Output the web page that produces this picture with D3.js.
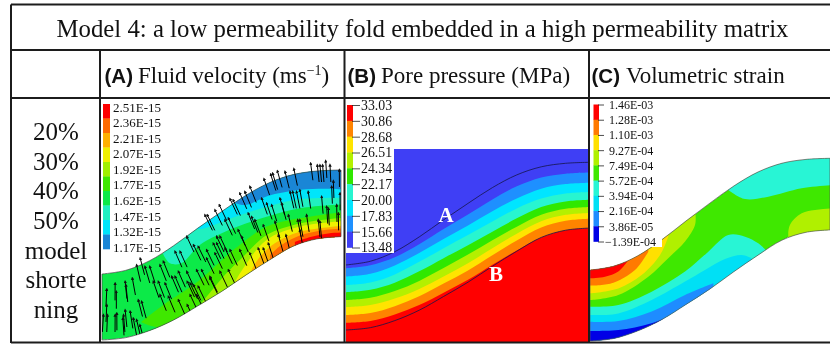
<!DOCTYPE html>
<html>
<head>
<meta charset="utf-8">
<script src="https://cdn.jsdelivr.net/npm/d3@7"></script>
<style>
    body { margin: 0; background: #fff; }
    svg { filter: blur(0.3px); }
    text { font-family: "Liberation Serif", serif; fill: #111; }
    .domain { display: none; }
</style>
</head>
<body>
<div id="chart"></div>
<script>
const titleText = 'Model 4: a low permeability fold embedded in a high permeability matrix';
const shorteningLines = ['20%', '30%', '40%', '50%', 'model', 'shorte', 'ning'];

// fold geometry: along-fold station (0-1) and model height of the two surfaces
const stations = [0, 0.1, 0.2, 0.3, 0.4, 0.5, 0.6, 0.7, 0.8, 0.9, 1];
const foldTop = [38.8, 41, 46.7, 55.5, 65.7, 75.5, 84.9, 92.5, 97.3, 99.4, 100];
const foldBottom = [0, 1.4, 5.6, 11.8, 20, 28.5, 38, 47, 55.2, 59.5, 60.8];
const matrixTop = 108;

// legends, top to bottom
const velocityTicks = ['2.51E-15', '2.36E-15', '2.21E-15', '2.07E-15', '1.92E-15', '1.77E-15', '1.62E-15', '1.47E-15', '1.32E-15', '1.17E-15'];
const pressureTicks = ['33.03', '30.86', '28.68', '26.51', '24.34', '22.17', '20.00', '17.83', '15.66', '13.48'];
const strainTicks = ['1.46E-03', '1.28E-03', '1.10E-03', '9.27E-04', '7.49E-04', '5.72E-04', '3.94E-04', '2.16E-04', '3.86E-05', '\u22121.39E-04'];

const velocityColors = ['#ff0000', '#ff6a00', '#ffb000', '#f0f000', '#a0f000', '#3fe800', '#0cea48', '#20f0c0', '#00e5fa', '#1a86d6'];
const pressureColors = ['#ff0000', '#ff8400', '#ffe400', '#b4f000', '#30e800', '#28f5d0', '#00e5ff', '#1e90ff', '#3f3ff5'];
const strainColors = ['#ff0000', '#ff7a00', '#ffe000', '#b0f000', '#3fe800', '#28f5d5', '#00e0f5', '#1e8cff', '#0000e6'];

// contour edges as [station, model height]
const velocityBlueEdge = [[0.535, 81.8], [0.598, 79.4], [0.696, 84.9], [0.807, 88], [0.905, 89], [1.017, 88.6]];
const velocityCyanEdge = [[0.381, 65.7], [0.416, 65.3], [0.549, 72], [0.689, 78.4], [0.828, 82.9], [1.017, 83.7]];
const velocityTealEdge = [[0.256, 50.4], [0.284, 45.1], [0.332, 45.1], [0.409, 55.9], [0.549, 65.7], [0.689, 72.5], [0.828, 77.5], [1.017, 79.8]];
const velocityGreenEdge = [[0.165, 10.8], [0.256, 20.6], [0.409, 35.3], [0.549, 52.9], [0.689, 66.7], [0.828, 71.6], [1.017, 75.5]];
const velocitySliverEdge = [[0.16, 10.8], [0.2, 8.5], [0.245, 7]];
const velocityLimeEdge = [[0.416, 21.6], [0.514, 38.2], [0.598, 50], [0.689, 61.8], [0.828, 68.6], [1.017, 72]];
const velocityYellowEdge = [[0.542, 30.4], [0.591, 42.2], [0.689, 58.8], [0.828, 66.7], [1.017, 70]];
const velocityAmberEdge = [[0.626, 41.2], [0.661, 49], [0.723, 56.9], [0.828, 63.7], [1.017, 67.3]];
const velocityOrangeEdge = [[0.703, 50], [0.751, 55.9], [0.828, 61.4], [0.905, 64.1], [1.017, 65.7]];
const velocityRedEdge = [[0.807, 57.8], [0.877, 60.8], [0.947, 62.7], [1.017, 63.3]];

const strainRedEdge = [[0, 34.3], [0.0625, 35.2], [0.118, 38], [0.16, 44.3]];
const strainOrangeEdge = [[0, 30.3], [0.09, 31.6], [0.1875, 38.9], [0.243, 48.9]];
const strainYellowEdge = [[0, 26.1], [0.118, 28.8], [0.215, 36.1], [0.292, 47.1], [0.326, 57.1]];
const strainLimeEdge = [[0, 22.4], [0.118, 25.2], [0.243, 35.2], [0.326, 45.3], [0.396, 54.4], [0.4375, 63.5], [0.44, 68.6]];
const strainTealEdge = [[0, 18.8], [0.118, 19.7], [0.257, 27], [0.396, 38], [0.493, 48.9], [0.576, 58], [0.646, 57.1], [0.701, 53.5], [0.74, 48.9]];
const strainCyanEdge = [[0, 14.2], [0.118, 15.1], [0.257, 22.4], [0.396, 32.5], [0.479, 38.9], [0.5625, 44.9], [0.632, 47.1], [0.674, 45.3]];
const strainAzureEdge = [[0, 10.6], [0.118, 10.9], [0.257, 16.1], [0.396, 25.2], [0.514, 31.6]];
const strainBlueEdge = [[0, 5.5], [0.118, 6], [0.257, 9.7], [0.41, 17.9]];
const strainUpperTealEdge = [[0.576, 82.7], [0.646, 77.7], [0.743, 79], [0.882, 83.6], [1.02, 85.4]];
const strainLowerLimeEdge = [[0.826, 58.9], [0.833, 63.5], [0.882, 69.9], [1.02, 72.6]];

// pressure bands run parallel to the fold: edges as fraction of its thickness per station
const pressureEdges = [
    [0.89, 0.9, 0.91, 0.93, 0.95, 0.97, 0.98, 0.99, 1, 1, 1],
    [0.77, 0.78, 0.79, 0.81, 0.83, 0.85, 0.86, 0.86, 0.86, 0.86, 0.86],
    [0.65, 0.66, 0.68, 0.71, 0.74, 0.76, 0.77, 0.77, 0.77, 0.77, 0.77],
    [0.54, 0.55, 0.57, 0.6, 0.63, 0.65, 0.67, 0.68, 0.68, 0.68, 0.68],
    [0.42, 0.43, 0.45, 0.47, 0.5, 0.53, 0.56, 0.57, 0.57, 0.57, 0.57],
    [0.31, 0.32, 0.33, 0.34, 0.37, 0.4, 0.43, 0.44, 0.45, 0.45, 0.45],
    [0.18, 0.19, 0.2, 0.22, 0.25, 0.28, 0.3, 0.31, 0.31, 0.31, 0.31],
    [0.05, 0.06, 0.08, 0.1, 0.12, 0.14, 0.15, 0.15, 0.15, 0.155, 0.155]
];

// velocity arrows: arrow tip as [station, model height]
const arrowTips = [
    [0.02, 29.8], [0.055, 33.3], [0.06, 28.4], [0.097, 34.3], [0.1, 32.3], [0.127, 36.3], [0.145, 44.1], [0.16, 48],
    [0.18, 43.1], [0.2, 43.1], [0.243, 44.1], [0.257, 46.1], [0.306, 52], [0.327, 52], [0.355, 60.8], [0.383, 55.9],
    [0.403, 54.9], [0.215, 34.3], [0.236, 34.3], [0.264, 33.3], [0.292, 37.3], [0.306, 37.3], [0.32, 40.2], [0.355, 40.2],
    [0.396, 41.2], [0.417, 41.2], [0.438, 52.9], [0.473, 51], [0.48, 56.9], [0.02, 20.6], [0.062, 15.7], [0.09, 14.7],
    [0.097, 17.6], [0.118, 16.7], [0.152, 23.5], [0.166, 22.5], [0.243, 26.5], [0.278, 25.5], [0.32, 23.5], [0.357, 34.3],
    [0.369, 33.3], [0.383, 32.3], [0.403, 31.4], [0.452, 36.3], [0.494, 40.2], [0.006, 14.7], [0.023, 14.7], [0.055, 14.7],
    [0.087, 12.7], [0.131, 12.7], [0.145, 11.8], [0.159, 8.8], [0.357, 20.6], [0.369, 26.5], [0.396, 26.5],
    [0.431, 73.5], [0.441, 73.5], [0.473, 76.4], [0.491, 79.4], [0.536, 82.9], [0.549, 82.3], [0.577, 86.3], [0.598, 87.2],
    [0.619, 90.2], [0.678, 94.7], [0.706, 97.4], [0.714, 98], [0.734, 99.4], [0.766, 99], [0.803, 100.6], [0.873, 103.9],
    [0.901, 102.9], [0.912, 102.9], [0.923, 102.9], [0.936, 105.3], [0.954, 102.9], [0.993, 100],
    [0.515, 70.6], [0.529, 71.6], [0.57, 64.7], [0.612, 74.5], [0.626, 72.5], [0.64, 70.6], [0.668, 83.3], [0.689, 80.4],
    [0.71, 79.4], [0.745, 83.3], [0.752, 80.4], [0.787, 87.2], [0.798, 87.2], [0.814, 87.2], [0.828, 88.2], [0.863, 87.2],
    [0.919, 84.3], [0.961, 90.2], [0.968, 93.5], [0.996, 86.3], [0.466, 56.8], [0.48, 60.8], [0.494, 60.8], [0.515, 53.9],
    [0.536, 52.9], [0.577, 52.9], [0.584, 60.8], [0.619, 51], [0.654, 53.9], [0.675, 53.9], [0.675, 67.6], [0.696, 56.8],
    [0.724, 69.6], [0.738, 61.7], [0.78, 73.5], [0.77, 61.7], [0.819, 70.6], [0.828, 70.6], [0.856, 73.5], [0.905, 70.6],
    [0.912, 69.6], [0.94, 78.4], [0.947, 77.4], [0.982, 79.4], [0.989, 74.5], [0.828, 64.7], [0.438, 48], [0.452, 37.2],
    [0.529, 41.2]
];
// arrow lean from vertical (degrees, negative = up-left) along the fold
const leanStations = [0, 0.06, 0.15, 0.25, 0.4, 0.55, 0.7, 0.85, 1];
const leanDegrees = [4, 0, -14, -22, -26, -25, -18, -9, 0];

const width = 830;
const height = 344;
const lineColor = '#1c1c1c';
const above = 150;
const below = -40;

const svg = d3.select('#chart')
    .append('svg')
    .attr('width', width)
    .attr('height', height)
    .style('display', 'block');
const defs = svg.append('defs');

defs.append('marker')
    .attr('id', 'arrowHead')
    .attr('viewBox', '0 0 6 6')
    .attr('refX', 3)
    .attr('refY', 3)
    .attr('markerWidth', 3.4)
    .attr('markerHeight', 3.4)
    .attr('markerUnits', 'userSpaceOnUse')
    .attr('orient', 'auto')
    .append('path')
    .attr('d', 'M0,0L6,3L0,6Z')
    .attr('fill', '#111');

const stationIndex = stations.map((d, i) => i);
const smooth = d3.curveCatmullRom.alpha(0.5);

function foldScales (left, right, yZero, yHundred) {
    const x = d3.scaleLinear().domain([0, 1]).range([left, right]);
    const y = d3.scaleLinear().domain([0, 100]).range([yZero, yHundred]);
    return { x, y };
}

function foldArea ({ x, y }) {
    return d3.area()
        .x(i => x(stations[i]))
        .y0(i => y(foldBottom[i]))
        .y1(i => y(foldTop[i]))
        .curve(smooth)(stationIndex);
}

function surfaceLine ({ x, y }, surface) {
    return d3.line()
        .x(i => x(stations[i]))
        .y(i => y(surface[i]))
        .curve(smooth)(stationIndex);
}

function addClip (id, scales) {
    defs.append('clipPath').attr('id', id)
        .append('path')
        .attr('d', foldArea(scales));
}

// fills from a contour edge to far above or far below the fold, the clip trims it
function lobe (g, { x, y }, edge, baseline, color) {
    g.append('path')
        .attr('d', d3.area()
            .x(d => x(d[0]))
            .y0(y(baseline))
            .y1(d => y(d[1]))
            .curve(smooth)(edge))
        .attr('fill', color);
}

function legend (g, ticks, colors, opts) {
    const { x, top, bottom, barWidth, tickLength, labelGap, fontSize, barTop, barBottom } = opts;
    const bar = d3.scaleBand()
        .domain(colors)
        .range([barTop, barBottom]);
    g.selectAll('rect.swatch')
        .data(colors)
        .join('rect')
        .attr('class', 'swatch')
        .attr('x', x)
        .attr('y', d => bar(d))
        .attr('width', barWidth)
        .attr('height', bar.bandwidth() + 0.3)
        .attr('fill', d => d);
    const labels = d3.scalePoint().domain(ticks).range([top, bottom]);
    const axis = d3.axisRight(labels).tickSize(tickLength).tickPadding(labelGap);
    const axisG = g.append('g')
        .attr('transform', `translate(${x + barWidth - 1},0)`)
        .call(axis);
    axisG.selectAll('line').attr('stroke', '#222').attr('stroke-width', 0.8);
    axisG.selectAll('text')
        .attr('font-size', fontSize)
        .style('font-family', '"Liberation Serif", serif')
        .attr('fill', '#111');
    return axisG;
}

// PANEL A
const velocityScales = foldScales(102, 341, 340, 170);
addClip('velocityClip', velocityScales);
// arrows may stick out of the top of the fold, not out of the bottom
defs.append('clipPath').attr('id', 'arrowClip')
    .append('path')
    .attr('d', d3.area()
        .x(i => velocityScales.x(stations[i]))
        .y0(i => velocityScales.y(foldBottom[i]))
        .y1(velocityScales.y(above))
        .curve(smooth)(stationIndex));
const velocityGroup = svg.append('g');
const velocityFold = velocityGroup.append('g').attr('clip-path', 'url(#velocityClip)');
velocityFold.append('path').attr('d', foldArea(velocityScales)).attr('fill', velocityColors[6]);
lobe(velocityFold, velocityScales, velocityTealEdge, above, velocityColors[7]);
lobe(velocityFold, velocityScales, velocityCyanEdge, above, velocityColors[8]);
lobe(velocityFold, velocityScales, velocityBlueEdge, above, velocityColors[9]);
lobe(velocityFold, velocityScales, velocityGreenEdge, below, velocityColors[5]);
lobe(velocityFold, velocityScales, velocitySliverEdge, below, velocityColors[6]);
lobe(velocityFold, velocityScales, velocityLimeEdge, below, velocityColors[4]);
lobe(velocityFold, velocityScales, velocityYellowEdge, below, velocityColors[3]);
lobe(velocityFold, velocityScales, velocityAmberEdge, below, velocityColors[2]);
lobe(velocityFold, velocityScales, velocityOrangeEdge, below, velocityColors[1]);
lobe(velocityFold, velocityScales, velocityRedEdge, below, velocityColors[0]);
velocityGroup.append('path')
    .attr('d', foldArea(velocityScales))
    .attr('fill', 'none')
    .attr('stroke', '#444')
    .attr('stroke-width', 0.7);

const lean = d3.scaleLinear().domain(leanStations).range(leanDegrees);
const arrowLength = 17;
velocityGroup.append('g')
    .attr('clip-path', 'url(#arrowClip)')
    .selectAll('line')
    .data(arrowTips)
    .join('line')
    .attr('x2', d => velocityScales.x(d[0]))
    .attr('y2', d => velocityScales.y(d[1]))
    .attr('x1', d => velocityScales.x(d[0]) - arrowLength * Math.sin(lean(d[0]) * Math.PI / 180))
    .attr('y1', d => velocityScales.y(d[1]) + arrowLength * Math.cos(lean(d[0]) * Math.PI / 180))
    .attr('stroke', '#000')
    .attr('stroke-width', 1)
    .attr('marker-end', 'url(#arrowHead)');

legend(velocityGroup.append('g'), velocityTicks, velocityColors, {
    x: 103, barWidth: 7, barTop: 104, barBottom: 249, top: 107, bottom: 247,
    tickLength: 0, labelGap: 4, fontSize: 13
});

// PANEL B
const pressureScales = foldScales(346, 590, 330, 162.3);
const pressureGroup = svg.append('g');
const pressureOrder = pressureColors.slice().reverse();
defs.append('clipPath').attr('id', 'pressureClip')
    .append('rect')
    .attr('x', 346).attr('y', pressureScales.y(matrixTop))
    .attr('width', 244).attr('height', 343 - pressureScales.y(matrixTop));
const pressureFold = pressureGroup.append('g').attr('clip-path', 'url(#pressureClip)');
pressureFold.append('rect')
    .attr('x', 346).attr('y', pressureScales.y(matrixTop))
    .attr('width', 244).attr('height', 343 - pressureScales.y(matrixTop))
    .attr('fill', pressureOrder[0]);
// each band reaches from its edge to below the picture, the last one is the red matrix
pressureEdges.slice().reverse().forEach((edge, n) => {
    pressureFold.append('path')
        .attr('d', d3.area()
            .x(i => pressureScales.x(stations[i]))
            .y0(343)
            .y1(i => pressureScales.y(foldTop[i] + (foldBottom[i] - foldTop[i]) * edge[i]))
            .curve(smooth)(stationIndex))
        .attr('fill', pressureOrder[n + 1]);
});
[foldTop, foldBottom].forEach(surface => {
    pressureGroup.append('path')
        .attr('d', surfaceLine(pressureScales, surface))
        .attr('fill', 'none')
        .attr('stroke', '#15154a')
        .attr('stroke-width', 0.8);
});
pressureGroup.append('rect')
    .attr('x', 345).attr('y', 98)
    .attr('width', 49).attr('height', 155)
    .attr('fill', '#fff');
legend(pressureGroup.append('g'), pressureTicks, pressureColors, {
    x: 347, barWidth: 6, barTop: 105, barBottom: 247.5, top: 105, bottom: 247.5,
    tickLength: 8, labelGap: 1, fontSize: 13.8
});
pressureGroup.append('text').attr('x', 446).attr('y', 222)
    .attr('text-anchor', 'middle').attr('font-size', 21).attr('font-weight', 'bold')
    .style('fill', '#fff').text('A');
pressureGroup.append('text').attr('x', 496).attr('y', 281)
    .attr('text-anchor', 'middle').attr('font-size', 21).attr('font-weight', 'bold')
    .style('fill', '#fff').text('B');

// PANEL C
const strainScales = foldScales(590, 830, 341, 158.3);
addClip('strainClip', strainScales);
const strainGroup = svg.append('g');
const strainFold = strainGroup.append('g').attr('clip-path', 'url(#strainClip)');
strainFold.append('path').attr('d', foldArea(strainScales)).attr('fill', strainColors[4]);
lobe(strainFold, strainScales, strainLimeEdge, above, strainColors[3]);
lobe(strainFold, strainScales, strainYellowEdge, above, strainColors[2]);
lobe(strainFold, strainScales, strainOrangeEdge, above, strainColors[1]);
lobe(strainFold, strainScales, strainRedEdge, above, strainColors[0]);
lobe(strainFold, strainScales, strainTealEdge, below, strainColors[5]);
lobe(strainFold, strainScales, strainCyanEdge, below, strainColors[6]);
lobe(strainFold, strainScales, strainAzureEdge, below, strainColors[7]);
lobe(strainFold, strainScales, strainBlueEdge, below, strainColors[8]);
lobe(strainFold, strainScales, strainUpperTealEdge, above, strainColors[5]);
lobe(strainFold, strainScales, strainLowerLimeEdge, below, strainColors[3]);
strainGroup.append('path')
    .attr('d', foldArea(strainScales))
    .attr('fill', 'none')
    .attr('stroke', '#555')
    .attr('stroke-width', 0.7);
strainGroup.append('rect')
    .attr('x', 591).attr('y', 98)
    .attr('width', 71).attr('height', 149)
    .attr('fill', '#fff');
const strainAxis = legend(strainGroup.append('g'), strainTicks, strainColors, {
    x: 593.5, barWidth: 5.5, barTop: 104.5, barBottom: 241.5, top: 104.5, bottom: 241.5,
    tickLength: 6, labelGap: 5, fontSize: 12
});
strainAxis.selectAll('text').filter(d => d.startsWith('\u2212')).attr('dx', -4);

// TABLE
const rules = svg.append('g').attr('stroke', lineColor).attr('stroke-width', 2);
[[11, 4.5, 830, 4.5], [11, 50, 830, 50], [11, 98, 830, 98], [11, 342.5, 830, 342.5],
    [11, 4.5, 11, 343], [100, 50, 100, 343], [344.5, 50, 344.5, 343], [589, 50, 589, 343]]
    .forEach(([x1, y1, x2, y2]) => rules.append('line').attr('x1', x1).attr('y1', y1).attr('x2', x2).attr('y2', y2));

svg.append('text').attr('x', 422.5).attr('y', 37)
    .attr('text-anchor', 'middle').attr('font-size', 24.8)
    .text(titleText);

function header (x, tag, labelX, label, sup) {
    svg.append('text').attr('x', x).attr('y', 82.5)
        .attr('font-size', 20.5).attr('font-weight', 'bold')
        .style('font-family', '"Liberation Sans", sans-serif').text(tag);
    const t = svg.append('text').attr('x', labelX).attr('y', 82.5).attr('font-size', 23).text(label);
    if (sup) {
        t.append('tspan').attr('dy', -8).attr('font-size', 14).text(sup);
        t.append('tspan').attr('dy', 8).text(')');
    }
}
header(104.5, '(A)', 138, 'Fluid velocity (ms', '\u22121');
header(347.5, '(B)', 381, 'Pore pressure (MPa)');
header(591.5, '(C)', 626, 'Volumetric strain');

const lineY = d3.scalePoint().domain(shorteningLines).range([140, 318]);
svg.append('g')
    .selectAll('text')
    .data(shorteningLines)
    .join('text')
    .attr('x', 56)
    .attr('y', d => lineY(d))
    .attr('text-anchor', 'middle')
    .attr('font-size', 25)
    .text(d => d);
</script>
</body>
</html>
